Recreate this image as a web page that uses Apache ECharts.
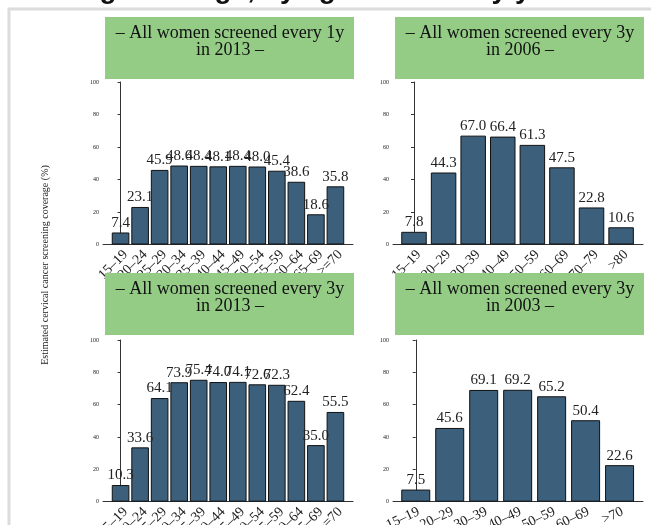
<!DOCTYPE html>
<html>
<head>
<meta charset="utf-8">
<script src="https://cdn.jsdelivr.net/npm/echarts@6/dist/echarts.min.js"></script>
<style>
  html, body { margin: 0; background: #fff; }
  #main { width: 651px; height: 525px; }
</style>
</head>
<body>
<div id="main"></div>
<script>
// age groups
const ages5y = ['15–19', '20–24', '25–29', '30–34', '35–39', '40–44', '45–49', '50–54', '55–59', '60–64', '65–69', '>=70']
const ages10y = ['15–19', '20–29', '30–39', '40–49', '50–59', '60–69', '70–79', '>80']
const ages10y2003 = ['15–19', '20–29', '30–39', '40–49', '50–59', '60–69', '>70']

// coverage (%)
const every1y2013 = [7.4, 23.1, 45.9, 48.6, 48.4, 48.1, 48.4, 48.0, 45.4, 38.6, 18.6, 35.8]
const every3y2006 = [7.8, 44.3, 67.0, 66.4, 61.3, 47.5, 22.8, 10.6]
const every3y2013 = [10.3, 33.6, 64.1, 73.9, 75.4, 74.0, 74.1, 72.6, 72.3, 62.4, 35.0, 55.5]
const every3y2003 = [7.5, 45.6, 69.1, 69.2, 65.2, 50.4, 22.6]

const stripTitles = [
  ['– All women screened every 1y', 'in 2013 –'],
  ['– All women screened every 3y', 'in 2006 –'],
  ['– All women screened every 3y', 'in 2013 –'],
  ['– All women screened every 3y', 'in 2003 –']
]

const serif = "'Liberation Serif', serif"
const barColor = '#3c5f7b'
const stripColor = '#94cc86'

// panel layout
const panels = [
  { ages: ages5y, vals: every1y2013, left: 103, top: 82, height: 162.5, min: -0.9, max: 11.9, bw: 17.6, stripTop: 17, rot: 45 },
  { ages: ages10y, vals: every3y2006, left: 393, top: 82, height: 162.5, min: -0.71, max: 7.74, bw: 25.5, stripTop: 17, rot: 45 },
  { ages: ages5y, vals: every3y2013, left: 103, top: 340, height: 161.7, min: -0.9, max: 11.9, bw: 17.6, stripTop: 273, rot: 45 },
  { ages: ages10y2003, vals: every3y2003, left: 393, top: 340, height: 161.7, min: -0.67, max: 6.69, bw: 29, stripTop: 273, rot: 25 }
]

let myChart = echarts.init(document.getElementById('main'))

let grid = [], xAxis = [], yAxis = [], series = [], graphic = []

// outer frame
graphic.push({
  type: 'rect', z: 0, silent: true,
  shape: { x: 9, y: 9, width: 700, height: 600 },
  style: { fill: '#fff', stroke: '#dcdcdc', lineWidth: 3 }
})
// main title, mostly above the page
graphic.push({
  type: 'text', z: 10, silent: true, x: 220, y: 4,
  style: {
    text: 'Cervical screening coverage, by age and survey year',
    font: "bold 28px 'Liberation Sans', sans-serif",
    fill: '#111', align: 'center', verticalAlign: 'bottom'
  }
})
// y axis title
graphic.push({
  type: 'text', z: 10, silent: true, x: 45, y: 265, rotation: Math.PI / 2,
  style: {
    text: 'Estimated cervical cancer screening coverage (%)',
    font: '10px ' + serif, fill: '#222', align: 'center', verticalAlign: 'middle'
  }
})

panels.forEach((p, i) => {
  grid.push({ left: p.left, top: p.top, width: 250, height: p.height, outerBoundsMode: 'none' })
  const idx = p.ages.map((a, k) => k)
  xAxis.push({
    gridIndex: i, type: 'value', min: p.min, max: p.max,
    splitLine: { show: false },
    axisLine: { show: true, lineStyle: { color: '#333', width: 1 } },
    axisTick: { show: false },
    axisLabel: {
      customValues: idx,
      showMinLabel: true, showMaxLabel: true, hideOverlap: false,
      rotate: p.rot, margin: 3, fontSize: 14, fontFamily: serif, color: '#222',
      align: 'right', verticalAlign: 'top',
      formatter: v => p.ages[Math.round(v)] || ''
    }
  })
  yAxis.push({
    gridIndex: i, type: 'value', min: 0, max: 100, interval: 20,
    splitLine: { show: false },
    axisLine: { show: true, lineStyle: { color: '#333', width: 1 } },
    axisTick: { show: true, length: 3, lineStyle: { color: '#333' } },
    axisLabel: { fontSize: 6, margin: 4, fontFamily: serif, color: '#222', showMinLabel: true }
  })
  series.push({
    type: 'bar', xAxisIndex: i, yAxisIndex: i,
    barWidth: p.bw,
    data: p.vals.map((v, k) => [k, v]),
    itemStyle: { color: barColor, borderColor: '#111', borderWidth: 1 },
    label: {
      show: true, position: 'top', distance: 2,
      fontSize: 15, fontFamily: serif, color: '#222',
      formatter: d => d.value[1].toFixed(1)
    }
  })
  // strip header
  graphic.push({
    type: 'rect', z: 5, silent: true,
    shape: { x: p.left + 2, y: p.stripTop, width: 249, height: 62 },
    style: { fill: stripColor }
  })
  graphic.push({
    type: 'text', z: 6, silent: true, x: p.left + 127, y: p.stripTop + 16,
    style: {
      text: stripTitles[i][0], font: '18px ' + serif, fill: '#111',
      align: 'center', verticalAlign: 'middle'
    }
  })
  graphic.push({
    type: 'text', z: 6, silent: true, x: p.left + 127, y: p.stripTop + 33,
    style: {
      text: stripTitles[i][1], font: '18px ' + serif, fill: '#111',
      align: 'center', verticalAlign: 'middle'
    }
  })
})

let option = {
  backgroundColor: '#fff',
  animation: false,
  grid: grid,
  xAxis: xAxis,
  yAxis: yAxis,
  series: series,
  graphic: graphic
}
myChart.setOption(option)
</script>
</body>
</html>
